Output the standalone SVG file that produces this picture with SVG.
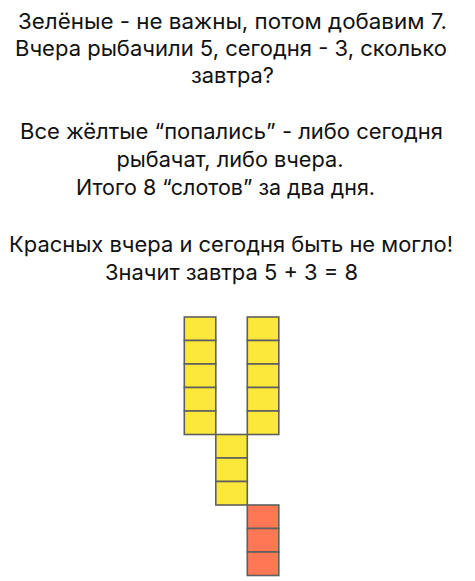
<svg xmlns="http://www.w3.org/2000/svg" width="475" height="581" viewBox="0 0 475 581">
<style>
.t{font-family:"Inter","Noto Sans","Liberation Sans",sans-serif;font-size:21.5px;fill:#111}
.c{stroke:#5f5f5f;stroke-width:1.6}
.y{fill:#fce83a}
.r{fill:#ff7755}
</style>
<rect width="475" height="581" fill="#fff"/>
<g id="text">
<text class="t" x="18" y="28.7" textLength="429" lengthAdjust="spacingAndGlyphs">Зелёные - не важны, потом добавим 7.</text>
<text class="t" x="15" y="56" textLength="432" lengthAdjust="spacingAndGlyphs">Вчера рыбачили 5, сегодня - 3, сколько</text>
<text class="t" x="191" y="83.3" textLength="83" lengthAdjust="spacingAndGlyphs">завтра?</text>
<text class="t" x="20" y="139.3" textLength="423" lengthAdjust="spacingAndGlyphs">Все жёлтые “попались” - либо сегодня</text>
<text class="t" x="116.5" y="166.6" textLength="227" lengthAdjust="spacingAndGlyphs">рыбачат, либо вчера.</text>
<text class="t" x="76" y="194.5" textLength="299" lengthAdjust="spacingAndGlyphs">Итого 8 “слотов” за два дня.</text>
<text class="t" x="9" y="252.3" textLength="444" lengthAdjust="spacingAndGlyphs">Красных вчера и сегодня быть не могло!</text>
<text class="t" x="105" y="279.6" textLength="253" lengthAdjust="spacingAndGlyphs">Значит завтра 5 + 3 = 8</text>
</g>
<g id="yesterday">
<rect class="c y" x="184.3" y="317" width="31.5" height="23.5"/>
<rect class="c y" x="184.3" y="340.5" width="31.5" height="23.5"/>
<rect class="c y" x="184.3" y="364" width="31.5" height="23.5"/>
<rect class="c y" x="184.3" y="387.5" width="31.5" height="23.5"/>
<rect class="c y" x="184.3" y="411" width="31.5" height="23.5"/>
</g>
<g id="today">
<rect class="c y" x="247.3" y="317" width="31.5" height="23.5"/>
<rect class="c y" x="247.3" y="340.5" width="31.5" height="23.5"/>
<rect class="c y" x="247.3" y="364" width="31.5" height="23.5"/>
<rect class="c y" x="247.3" y="387.5" width="31.5" height="23.5"/>
<rect class="c y" x="247.3" y="411" width="31.5" height="23.5"/>
</g>
<g id="both">
<rect class="c y" x="215.8" y="434.5" width="31.5" height="23.5"/>
<rect class="c y" x="215.8" y="458" width="31.5" height="23.5"/>
<rect class="c y" x="215.8" y="481.5" width="31.5" height="23.5"/>
</g>
<g id="tomorrow">
<rect class="c r" x="247.3" y="505" width="31.5" height="23.5"/>
<rect class="c r" x="247.3" y="528.5" width="31.5" height="23.5"/>
<rect class="c r" x="247.3" y="552" width="31.5" height="23.5"/>
</g>
<g id="connectors"/>
</svg>
